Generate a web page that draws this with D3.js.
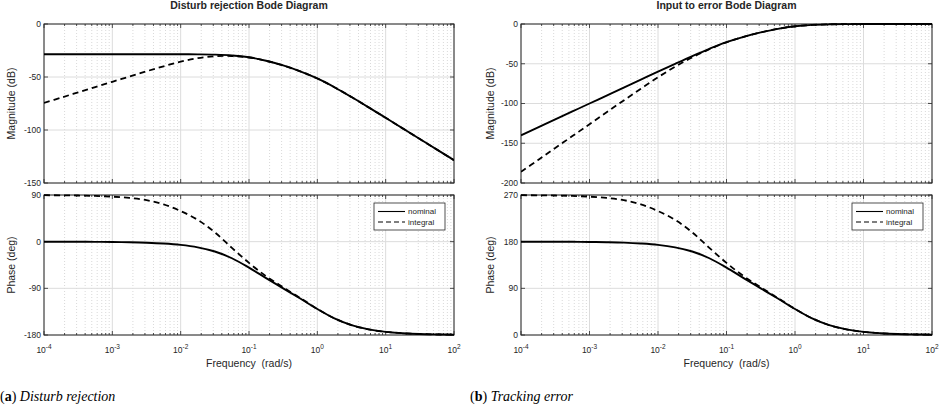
<!DOCTYPE html>
<html>
<head>
<meta charset="utf-8">
<script src="https://cdn.jsdelivr.net/npm/d3@7"></script>
<style>
  body { margin: 0; background: #fff; }
  text { font-family: "Liberation Sans", Arial, Helvetica, sans-serif; fill: #262626; }
  .caption { font-family: "Liberation Serif", "Times New Roman", serif; fill: #000; }
</style>
</head>
<body>
<script>
// frequency grid (rad/s)
const freq = [1e-4, 1.778e-4, 3.162e-4, 5.623e-4, 1e-3, 1.778e-3, 3.162e-3, 5.623e-3,
  1e-2, 1.778e-2, 3.162e-2, 5.623e-2, 0.1, 0.1778, 0.3162, 0.5623,
  1, 1.778, 3.162, 5.623, 10, 17.78, 31.62, 56.23, 100];

// (a) disturb rejection
const distMagNominal = [-28.5, -28.5, -28.5, -28.5, -28.5, -28.5, -28.5, -28.5,
  -28.54, -28.63, -28.9, -29.65, -31.4, -34.65, -39.1, -44.65,
  -51.4, -59.65, -68.9, -78.6, -88.5, -98.5, -108.5, -118.5, -128.5];
const distMagIntegral = [-74.5, -69.5, -64.5, -59.5, -54.5, -49.6, -44.6, -39.9,
  -35.5, -32.2, -30.4, -30.2, -31.6, -34.7, -39.1, -44.65,
  -51.4, -59.65, -68.9, -78.6, -88.5, -98.5, -108.5, -118.5, -128.5];
const distPhaseNominal = [-0.06, -0.11, -0.19, -0.35, -0.62, -1.09, -1.95, -3.46,
  -6.14, -10.9, -19.0, -32.0, -50.1, -70.3, -90.0, -109.7,
  -129.9, -148.0, -161.0, -169.1, -173.9, -176.5, -178.1, -178.9, -179.4];
const distPhaseIntegral = [89.6, 89.4, 89.0, 88.2, 86.8, 84.3, 80.0, 72.0,
  59.0, 42.0, 18.0, -12.0, -41.0, -66.5, -88.0, -108.7,
  -129.5, -147.8, -161.0, -169.1, -173.9, -176.5, -178.1, -178.9, -179.4];

// (b) tracking error
const errMagNominal = [-140, -130, -120, -110, -100, -90, -80, -70,
  -60, -50.1, -40.4, -31.2, -22.8, -16.1, -10.6, -6.1,
  -2.9, -1.15, -0.4, -0.13, -0.04, -0.01, 0, 0, 0];
const errMagIntegral = [-186, -171, -156, -141, -126, -111, -96.1, -81.4,
  -67.0, -53.7, -41.9, -31.8, -23.0, -16.2, -10.6, -6.1,
  -2.9, -1.15, -0.4, -0.13, -0.04, -0.01, 0, 0, 0];
const errPhaseNominal = [179.9, 179.9, 179.8, 179.7, 179.4, 178.9, 178.1, 176.5,
  173.9, 169.1, 161.0, 148.0, 129.9, 109.7, 90.0, 70.3,
  50.1, 32.0, 19.0, 10.9, 6.1, 3.5, 1.9, 1.1, 0.6];
const errPhaseIntegral = [269.6, 269.4, 269.0, 268.2, 266.8, 264.3, 260.0, 252.0,
  239.0, 222.0, 198.0, 168.0, 139.0, 113.5, 92.0, 71.3,
  50.5, 32.2, 19.0, 10.9, 6.1, 3.5, 1.9, 1.1, 0.6];

// axis ticks
const decadeExps = [-4, -3, -2, -1, 0, 1, 2];
const distMagTicks = [0, -50, -100, -150];
const distPhaseTicks = [90, 0, -90, -180];
const errMagTicks = [0, -50, -100, -150, -200];
const errPhaseTicks = [270, 180, 90, 0];
const legendLabels = ['nominal', 'integral'];

const width = 942, height = 409;
const magTop = 24, magBottom = 183, phTop = 195, phBottom = 335;

const svg = d3.select('body').append('svg')
  .attr('width', width)
  .attr('height', height)
  .attr('viewBox', [0, 0, width, height]);

let clipId = 0;

function drawAxes(g, x, y, yTicks, top, bottom, xLabels) {
  const left = x.range()[0], right = x.range()[1];
  const allX = x.ticks();
  const majorX = allX.filter(d => Math.abs(Math.log10(d) - Math.round(Math.log10(d))) < 1e-9);
  const minorX = allX.filter(d => !majorX.includes(d));

  // grid
  g.append('g').selectAll('line').data(minorX).join('line')
    .attr('x1', d => x(d)).attr('x2', d => x(d))
    .attr('y1', top).attr('y2', bottom)
    .attr('stroke', '#cfcfcf').attr('stroke-width', 0.8)
    .attr('stroke-dasharray', '1,2');
  g.append('g').selectAll('line').data(majorX).join('line')
    .attr('x1', d => x(d)).attr('x2', d => x(d))
    .attr('y1', top).attr('y2', bottom)
    .attr('stroke', '#dcdcdc').attr('stroke-width', 1);
  g.append('g').selectAll('line').data(yTicks).join('line')
    .attr('x1', left).attr('x2', right)
    .attr('y1', d => y(d)).attr('y2', d => y(d))
    .attr('stroke', '#dcdcdc').attr('stroke-width', 1);

  // ticks on all four sides, pointing inward
  const tickG = g.append('g').attr('stroke', '#262626').attr('stroke-width', 0.8);
  [[top, 1], [bottom, -1]].forEach(([yy, dir]) => {
    tickG.append('g').selectAll('line').data(majorX).join('line')
      .attr('x1', d => x(d)).attr('x2', d => x(d))
      .attr('y1', yy).attr('y2', yy + dir * 4);
    tickG.append('g').selectAll('line').data(minorX).join('line')
      .attr('x1', d => x(d)).attr('x2', d => x(d))
      .attr('y1', yy).attr('y2', yy + dir * 2);
  });
  [[left, 1], [right, -1]].forEach(([xx, dir]) => {
    tickG.append('g').selectAll('line').data(yTicks).join('line')
      .attr('x1', xx).attr('x2', xx + dir * 4)
      .attr('y1', d => y(d)).attr('y2', d => y(d));
  });

  g.append('rect')
    .attr('x', left).attr('y', top)
    .attr('width', right - left).attr('height', bottom - top)
    .attr('fill', 'none').attr('stroke', '#262626').attr('stroke-width', 1);

  g.append('g').selectAll('text').data(yTicks).join('text')
    .attr('x', left - 3).attr('y', d => y(d))
    .attr('dy', '0.35em').attr('text-anchor', 'end')
    .attr('font-size', 8.5)
    .text(d => d);

  if (xLabels) {
    const lab = g.append('g').selectAll('text').data(decadeExps).join('text')
      .attr('x', d => x(Math.pow(10, d)))
      .attr('y', bottom + 18)
      .attr('text-anchor', 'middle')
      .attr('font-size', 8.5);
    lab.append('tspan').text('10');
    lab.append('tspan').attr('dy', -4).attr('font-size', 6.5).text(d => d);
  }
}

function drawCurves(g, x, y, top, bottom, series) {
  const id = 'clip' + (clipId++);
  g.append('clipPath').attr('id', id).append('rect')
    .attr('x', x.range()[0]).attr('y', top - 1)
    .attr('width', x.range()[1] - x.range()[0]).attr('height', bottom - top + 2);
  const line = d3.line()
    .x((d, i) => x(freq[i]))
    .y(d => y(d))
    .curve(d3.curveCatmullRom.alpha(0.5));
  const cg = g.append('g').attr('clip-path', `url(#${id})`);
  cg.append('path').datum(series[1])
    .attr('d', line).attr('fill', 'none')
    .attr('stroke', '#000').attr('stroke-width', 1.8)
    .attr('stroke-dasharray', '6,4');
  cg.append('path').datum(series[0])
    .attr('d', line).attr('fill', 'none')
    .attr('stroke', '#000').attr('stroke-width', 1.9);
}

function drawLegend(g, right) {
  const w = 71, h = 27, lx = right - 9 - w, ly = 203;
  const lg = g.append('g').attr('transform', `translate(${lx},${ly})`);
  lg.append('rect').attr('width', w).attr('height', h)
    .attr('fill', '#fff').attr('stroke', '#262626').attr('stroke-width', 0.8);
  legendLabels.forEach((name, i) => {
    const yy = 8.5 + i * 10.5;
    lg.append('line').attr('x1', 4).attr('x2', 31).attr('y1', yy).attr('y2', yy)
      .attr('stroke', '#000').attr('stroke-width', 1.1)
      .attr('stroke-dasharray', i === 1 ? '5,3' : null);
    lg.append('text').attr('x', 34).attr('y', yy).attr('dy', '0.35em')
      .attr('font-size', 8).text(name);
  });
}

function drawBode(p) {
  const g = svg.append('g');
  const x = d3.scaleLog().domain([1e-4, 1e2]).range([p.left, p.right]);
  const yMag = d3.scaleLinear().domain([p.magTicks[p.magTicks.length - 1], 0]).range([magBottom, magTop]);
  const yPh = d3.scaleLinear()
    .domain(d3.extent(p.phaseTicks)).range([phBottom, phTop]);

  drawAxes(g, x, yMag, p.magTicks, magTop, magBottom, false);
  drawCurves(g, x, yMag, magTop, magBottom, p.mag);
  drawAxes(g, x, yPh, p.phaseTicks, phTop, phBottom, true);
  drawCurves(g, x, yPh, phTop, phBottom, p.phase);
  drawLegend(g, p.right);

  const cx = (p.left + p.right) / 2;
  g.append('text').attr('x', cx).attr('y', 9)
    .attr('text-anchor', 'middle').attr('font-size', 10.5).attr('font-weight', 'bold')
    .attr('fill', '#000').text(p.title);
  g.append('text').attr('x', cx).attr('y', 367)
    .attr('text-anchor', 'middle').attr('font-size', 10.5)
    .attr('xml:space', 'preserve').text('Frequency  (rad/s)');
  g.append('text')
    .attr('transform', `translate(${p.labelX},${(magTop + magBottom) / 2}) rotate(-90)`)
    .attr('text-anchor', 'middle').attr('font-size', 10.5).text('Magnitude (dB)');
  g.append('text')
    .attr('transform', `translate(${p.labelX},${(phTop + phBottom) / 2}) rotate(-90)`)
    .attr('text-anchor', 'middle').attr('font-size', 10.5).text('Phase (deg)');

  const cap = g.append('text').attr('class', 'caption')
    .attr('x', p.capX).attr('y', 401).attr('font-size', 14);
  cap.append('tspan').text('(');
  cap.append('tspan').attr('font-weight', 'bold').text(p.capLetter);
  cap.append('tspan').text(') ');
  cap.append('tspan').attr('font-style', 'italic').text(p.capText);
}

drawBode({
  left: 44, right: 454, labelX: 15,
  title: 'Disturb rejection Bode Diagram',
  magTicks: distMagTicks, phaseTicks: distPhaseTicks,
  mag: [distMagNominal, distMagIntegral],
  phase: [distPhaseNominal, distPhaseIntegral],
  capX: 0, capLetter: 'a', capText: 'Disturb rejection'
});

drawBode({
  left: 521, right: 932, labelX: 494,
  title: 'Input to error Bode Diagram',
  magTicks: errMagTicks, phaseTicks: errPhaseTicks,
  mag: [errMagNominal, errMagIntegral],
  phase: [errPhaseNominal, errPhaseIntegral],
  capX: 470, capLetter: 'b', capText: 'Tracking error'
});
</script>
</body>
</html>
